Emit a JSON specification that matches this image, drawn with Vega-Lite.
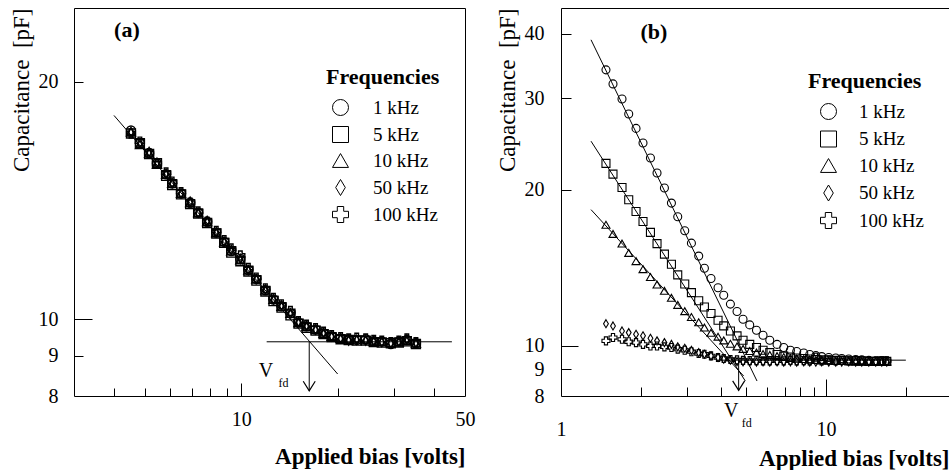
{
  "$schema": "https://vega.github.io/schema/vega-lite/v6.json",
  "background": "white",
  "padding": {"left": 9, "top": 7, "right": 0, "bottom": 0},
  "bounds": "flush",
  "spacing": 96,
  "config": {
    "view": {"stroke": null},
    "axis": {"grid": false, "domain": false, "domainColor": "black", "domainWidth": 1, "tickColor": "black", "tickWidth": 1, "labelColor": "black", "titleColor": "black", "labelFont": "Liberation Serif", "titleFont": "Liberation Serif", "labelFontSize": 20, "labelOverlap": false, "labelFlush": false, "titleFontWeight": "normal", "titleFontSize": 23},
    "legend": {"titleFont": "Liberation Serif", "titleFontSize": 22, "titleFontWeight": "bold", "titleColor": "black", "titlePadding": 9, "labelFont": "Liberation Serif", "labelFontSize": 19, "labelColor": "black", "symbolSize": 256, "symbolStrokeColor": "black", "symbolFillColor": "white", "symbolStrokeWidth": 1, "rowPadding": 6}
  },
  "resolve": {"scale": {"shape": "independent"}, "legend": {"shape": "independent"}},
  "hconcat": [
    {
      "width": 391,
      "height": 388,
      "resolve": {"axis": {"x": "independent", "y": "independent"}},
      "layer": [
        {
          "data": {"values": [
            {"V": 4.52, "1 kHz": 17.35, "5 kHz": 17.2, "10 kHz": 17.27, "50 kHz": 17.27, "100 kHz": 17.2},
            {"V": 4.82, "1 kHz": 16.72, "5 kHz": 16.72, "10 kHz": 16.65, "50 kHz": 16.72, "100 kHz": 16.8},
            {"V": 5.15, "1 kHz": 16.24, "5 kHz": 16.2, "10 kHz": 16.24, "50 kHz": 16.3, "100 kHz": 16.24},
            {"V": 5.45, "1 kHz": 15.77, "5 kHz": 15.77, "10 kHz": 15.72, "50 kHz": 15.8, "100 kHz": 15.77},
            {"V": 5.82, "1 kHz": 15.27, "5 kHz": 15.2, "10 kHz": 15.27, "50 kHz": 15.3, "100 kHz": 15.35},
            {"V": 6.08, "1 kHz": 14.87, "5 kHz": 14.8, "10 kHz": 14.87, "50 kHz": 14.87, "100 kHz": 14.95},
            {"V": 6.48, "1 kHz": 14.44, "5 kHz": 14.4, "10 kHz": 14.44, "50 kHz": 14.44, "100 kHz": 14.5},
            {"V": 6.92, "1 kHz": 14.06, "5 kHz": 14.0, "10 kHz": 14.06, "50 kHz": 14.1, "100 kHz": 14.06},
            {"V": 7.33, "1 kHz": 13.65, "5 kHz": 13.62, "10 kHz": 13.65, "50 kHz": 13.65, "100 kHz": 13.7},
            {"V": 7.82, "1 kHz": 13.3, "5 kHz": 13.25, "10 kHz": 13.3, "50 kHz": 13.33, "100 kHz": 13.3},
            {"V": 8.35, "1 kHz": 12.88, "5 kHz": 12.85, "10 kHz": 12.88, "50 kHz": 12.9, "100 kHz": 12.95},
            {"V": 8.84, "1 kHz": 12.54, "5 kHz": 12.5, "10 kHz": 12.54, "50 kHz": 12.54, "100 kHz": 12.6},
            {"V": 9.3, "1 kHz": 12.21, "5 kHz": 12.15, "10 kHz": 12.21, "50 kHz": 12.25, "100 kHz": 12.3},
            {"V": 9.93, "1 kHz": 11.93, "5 kHz": 11.85, "10 kHz": 11.9, "50 kHz": 11.93, "100 kHz": 12.05},
            {"V": 10.52, "1 kHz": 11.55, "5 kHz": 11.5, "10 kHz": 11.55, "50 kHz": 11.55, "100 kHz": 11.62},
            {"V": 11.14, "1 kHz": 11.25, "5 kHz": 11.2, "10 kHz": 11.25, "50 kHz": 11.25, "100 kHz": 11.3},
            {"V": 11.89, "1 kHz": 10.89, "5 kHz": 10.85, "10 kHz": 10.89, "50 kHz": 10.92, "100 kHz": 10.95},
            {"V": 12.6, "1 kHz": 10.6, "5 kHz": 10.55, "10 kHz": 10.6, "50 kHz": 10.6, "100 kHz": 10.65},
            {"V": 13.35, "1 kHz": 10.39, "5 kHz": 10.35, "10 kHz": 10.39, "50 kHz": 10.42, "100 kHz": 10.45},
            {"V": 14.24, "1 kHz": 10.18, "5 kHz": 10.12, "10 kHz": 10.18, "50 kHz": 10.18, "100 kHz": 10.25},
            {"V": 15.09, "1 kHz": 9.91, "5 kHz": 9.88, "10 kHz": 9.91, "50 kHz": 9.93, "100 kHz": 9.95},
            {"V": 15.99, "1 kHz": 9.8, "5 kHz": 9.76, "10 kHz": 9.8, "50 kHz": 9.82, "100 kHz": 9.85},
            {"V": 17.06, "1 kHz": 9.71, "5 kHz": 9.68, "10 kHz": 9.71, "50 kHz": 9.71, "100 kHz": 9.75},
            {"V": 18.07, "1 kHz": 9.6, "5 kHz": 9.58, "10 kHz": 9.6, "50 kHz": 9.62, "100 kHz": 9.65},
            {"V": 19.15, "1 kHz": 9.52, "5 kHz": 9.5, "10 kHz": 9.52, "50 kHz": 9.52, "100 kHz": 9.55},
            {"V": 20.43, "1 kHz": 9.46, "5 kHz": 9.44, "10 kHz": 9.46, "50 kHz": 9.46, "100 kHz": 9.5},
            {"V": 21.65, "1 kHz": 9.44, "5 kHz": 9.42, "10 kHz": 9.44, "50 kHz": 9.4, "100 kHz": 9.46},
            {"V": 22.94, "1 kHz": 9.42, "5 kHz": 9.4, "10 kHz": 9.44, "50 kHz": 9.42, "100 kHz": 9.48},
            {"V": 24.47, "1 kHz": 9.44, "5 kHz": 9.4, "10 kHz": 9.42, "50 kHz": 9.4, "100 kHz": 9.46},
            {"V": 25.93, "1 kHz": 9.38, "5 kHz": 9.36, "10 kHz": 9.38, "50 kHz": 9.4, "100 kHz": 9.42},
            {"V": 27.47, "1 kHz": 9.38, "5 kHz": 9.35, "10 kHz": 9.38, "50 kHz": 9.36, "100 kHz": 9.4},
            {"V": 29.32, "1 kHz": 9.31, "5 kHz": 9.33, "10 kHz": 9.35, "50 kHz": 9.33, "100 kHz": 9.36},
            {"V": 31.06, "1 kHz": 9.38, "5 kHz": 9.35, "10 kHz": 9.36, "50 kHz": 9.38, "100 kHz": 9.4},
            {"V": 32.9, "1 kHz": 9.42, "5 kHz": 9.38, "10 kHz": 9.4, "50 kHz": 9.44, "100 kHz": 9.46},
            {"V": 35.12, "1 kHz": 9.33, "5 kHz": 9.31, "10 kHz": 9.33, "50 kHz": 9.35, "100 kHz": 9.36}
          ]},
          "transform": [{"fold": ["1 kHz", "5 kHz", "10 kHz", "50 kHz", "100 kHz"], "as": ["Frequency", "C"]}],
          "mark": {"type": "point", "filled": false, "color": "black", "strokeWidth": 1.4, "opacity": 1, "size": 80},
          "encoding": {
            "x": {"field": "V", "type": "quantitative", "scale": {"type": "log", "domain": [3, 50], "nice": false},
                  "axis": {"orient": "bottom", "values": [4, 5, 6, 7, 8, 9, 20, 30, 40], "tickSize": -8, "labels": false, "domain": true, "title": null}},
            "y": {"field": "C", "type": "quantitative", "scale": {"type": "log", "domain": [8, 24.8], "nice": false},
                  "axis": {"orient": "left", "values": [9, 20], "tickSize": -9, "labels": false, "domain": true, "title": null}},
            "shape": {"field": "Frequency", "type": "nominal",
                      "scale": {"domain": ["1 kHz", "5 kHz", "10 kHz", "50 kHz", "100 kHz"], "range": ["circle", "square", "triangle-up", "M0,-1L0.6,0L0,1L-0.6,0Z", "cross"]},
                      "legend": {"orient": "none", "legendX": 252, "legendY": 59, "title": "Frequencies", "symbolOffset": 5, "labelOffset": 23}}
          }
        },
        {
          "data": {"values": [
            {"seg": "fit", "V": 4.0, "C": 18.13},
            {"seg": "fit", "V": 20.0, "C": 8.53},
            {"seg": "sat", "V": 12.0, "C": 9.37},
            {"seg": "sat", "V": 45.5, "C": 9.37}
          ]},
          "mark": {"type": "line", "color": "black", "strokeWidth": 1},
          "encoding": {
            "x": {"field": "V", "type": "quantitative", "scale": {"type": "log", "domain": [3, 50], "nice": false},
                  "axis": {"orient": "bottom", "values": [10], "tickSize": -13, "labels": false, "domain": false, "title": null}},
            "y": {"field": "C", "type": "quantitative", "scale": {"type": "log", "domain": [8, 24.8], "nice": false},
                  "axis": {"orient": "left", "values": [10], "tickSize": -18, "labels": false, "domain": false, "title": null}},
            "detail": {"field": "seg"}
          }
        },
        {
          "data": {"values": [{"V": 16.3, "C": 9.37, "C2": 8.12}]},
          "mark": {"type": "rule", "color": "black", "strokeWidth": 1},
          "encoding": {
            "x": {"field": "V", "type": "quantitative", "scale": {"type": "log", "domain": [3, 50], "nice": false},
                  "axis": {"orient": "bottom", "values": [10, 50], "ticks": false, "labelPadding": 13, "domain": false, "title": "Applied bias [volts]", "titleAnchor": "end", "titleFontWeight": "bold", "titlePadding": 16}},
            "y": {"field": "C", "type": "quantitative", "scale": {"type": "log", "domain": [8, 24.8], "nice": false},
                  "axis": {"orient": "left", "values": [8, 9, 10, 20], "ticks": false, "labelPadding": 16, "labelAlign": "right", "domain": false, "title": "Capacitance\u00a0\u00a0[pF]", "titleAnchor": "end", "titlePadding": 5}},
            "y2": {"field": "C2"}
          }
        },
        {
          "data": {"values": [{"V": 16.3, "C": 8.12}]},
          "mark": {"type": "point", "shape": "M-1,-1.6L0,0L1,-1.6", "size": 144, "filled": false, "color": "black", "strokeWidth": 1.2, "opacity": 1},
          "encoding": {
            "x": {"field": "V", "type": "quantitative", "scale": {"type": "log", "domain": [3, 50], "nice": false},
                  "axis": {"orient": "top", "ticks": false, "labels": false, "domain": true, "title": null}},
            "y": {"field": "C", "type": "quantitative", "scale": {"type": "log", "domain": [8, 24.8], "nice": false},
                  "axis": {"orient": "right", "ticks": false, "labels": false, "domain": true, "title": null}}
          }
        },
        {
          "data": {"values": [{"V": 4.39, "C": 23.24, "t": "(a)"}]},
          "mark": {"type": "text", "font": "Liberation Serif", "fontSize": 22, "fontWeight": "bold", "align": "center", "baseline": "middle", "color": "black"},
          "encoding": {
            "x": {"field": "V", "type": "quantitative", "scale": {"type": "log", "domain": [3, 50], "nice": false}, "axis": null},
            "y": {"field": "C", "type": "quantitative", "scale": {"type": "log", "domain": [8, 24.8], "nice": false}, "axis": null},
            "text": {"field": "t"}
          }
        },
        {
          "data": {"values": [{"V": 11.94, "C": 8.61, "t": "V"}]},
          "mark": {"type": "text", "font": "Liberation Serif", "fontSize": 20, "align": "center", "baseline": "middle", "color": "black"},
          "encoding": {
            "x": {"field": "V", "type": "quantitative", "scale": {"type": "log", "domain": [3, 50], "nice": false}, "axis": null},
            "y": {"field": "C", "type": "quantitative", "scale": {"type": "log", "domain": [8, 24.8], "nice": false}, "axis": null},
            "text": {"field": "t"}
          }
        },
        {
          "data": {"values": [{"V": 13.55, "C": 8.32, "t": "fd"}]},
          "mark": {"type": "text", "font": "Liberation Serif", "fontSize": 12, "align": "center", "baseline": "middle", "color": "black"},
          "encoding": {
            "x": {"field": "V", "type": "quantitative", "scale": {"type": "log", "domain": [3, 50], "nice": false}, "axis": null},
            "y": {"field": "C", "type": "quantitative", "scale": {"type": "log", "domain": [8, 24.8], "nice": false}, "axis": null},
            "text": {"field": "t"}
          }
        }
      ]
    },
    {
      "width": 388,
      "height": 388,
      "resolve": {"axis": {"x": "independent", "y": "independent"}},
      "layer": [
        {
          "data": {"values": [
            {"V": 1.478, "1 kHz": 34.04, "5 kHz": 22.47, "10 kHz": 17.11, "50 kHz": 11.03, "100 kHz": 10.22},
            {"V": 1.571, "1 kHz": 31.98, "5 kHz": 21.43, "10 kHz": 16.43, "50 kHz": 10.92, "100 kHz": 10.37},
            {"V": 1.699, "1 kHz": 29.91, "5 kHz": 20.19, "10 kHz": 15.74, "50 kHz": 10.68, "100 kHz": 10.29},
            {"V": 1.801, "1 kHz": 27.99, "5 kHz": 19.12, "10 kHz": 15.1, "50 kHz": 10.6, "100 kHz": 10.18},
            {"V": 1.919, "1 kHz": 26.25, "5 kHz": 18.15, "10 kHz": 14.56, "50 kHz": 10.52, "100 kHz": 10.14},
            {"V": 2.039, "1 kHz": 24.6, "5 kHz": 17.36, "10 kHz": 14.05, "50 kHz": 10.45, "100 kHz": 10.06},
            {"V": 2.175, "1 kHz": 23.01, "5 kHz": 16.54, "10 kHz": 13.57, "50 kHz": 10.34, "100 kHz": 9.99},
            {"V": 2.303, "1 kHz": 21.53, "5 kHz": 15.74, "10 kHz": 13.12, "50 kHz": 10.22, "100 kHz": 9.99},
            {"V": 2.456, "1 kHz": 20.14, "5 kHz": 15.02, "10 kHz": 12.76, "50 kHz": 10.14, "100 kHz": 9.95},
            {"V": 2.61, "1 kHz": 18.84, "5 kHz": 14.36, "10 kHz": 12.37, "50 kHz": 10.06, "100 kHz": 9.92},
            {"V": 2.757, "1 kHz": 17.73, "5 kHz": 13.7, "10 kHz": 11.99, "50 kHz": 9.95, "100 kHz": 9.85},
            {"V": 2.93, "1 kHz": 16.66, "5 kHz": 13.15, "10 kHz": 11.66, "50 kHz": 9.89, "100 kHz": 9.8},
            {"V": 3.105, "1 kHz": 15.77, "5 kHz": 12.66, "10 kHz": 11.36, "50 kHz": 9.8, "100 kHz": 9.74},
            {"V": 3.308, "1 kHz": 14.89, "5 kHz": 12.21, "10 kHz": 11.1, "50 kHz": 9.7, "100 kHz": 9.66},
            {"V": 3.476, "1 kHz": 14.11, "5 kHz": 11.88, "10 kHz": 10.84, "50 kHz": 9.63, "100 kHz": 9.63},
            {"V": 3.681, "1 kHz": 13.48, "5 kHz": 11.54, "10 kHz": 10.59, "50 kHz": 9.56, "100 kHz": 9.56},
            {"V": 3.913, "1 kHz": 12.94, "5 kHz": 11.2, "10 kHz": 10.41, "50 kHz": 9.49, "100 kHz": 9.49},
            {"V": 4.111, "1 kHz": 12.51, "5 kHz": 10.92, "10 kHz": 10.24, "50 kHz": 9.42, "100 kHz": 9.45},
            {"V": 4.357, "1 kHz": 12.03, "5 kHz": 10.68, "10 kHz": 10.09, "50 kHz": 9.38, "100 kHz": 9.41},
            {"V": 4.615, "1 kHz": 11.64, "5 kHz": 10.45, "10 kHz": 9.97, "50 kHz": 9.32, "100 kHz": 9.39},
            {"V": 4.862, "1 kHz": 11.25, "5 kHz": 10.25, "10 kHz": 9.86, "50 kHz": 9.31, "100 kHz": 9.37},
            {"V": 5.153, "1 kHz": 10.97, "5 kHz": 10.06, "10 kHz": 9.77, "50 kHz": 9.31, "100 kHz": 9.36},
            {"V": 5.464, "1 kHz": 10.71, "5 kHz": 9.92, "10 kHz": 9.7, "50 kHz": 9.3, "100 kHz": 9.36},
            {"V": 5.785, "1 kHz": 10.48, "5 kHz": 9.8, "10 kHz": 9.64, "50 kHz": 9.31, "100 kHz": 9.35},
            {"V": 6.133, "1 kHz": 10.25, "5 kHz": 9.7, "10 kHz": 9.6, "50 kHz": 9.3, "100 kHz": 9.35},
            {"V": 6.534, "1 kHz": 10.06, "5 kHz": 9.62, "10 kHz": 9.55, "50 kHz": 9.31, "100 kHz": 9.36},
            {"V": 6.925, "1 kHz": 9.92, "5 kHz": 9.55, "10 kHz": 9.51, "50 kHz": 9.3, "100 kHz": 9.35},
            {"V": 7.338, "1 kHz": 9.8, "5 kHz": 9.51, "10 kHz": 9.47, "50 kHz": 9.31, "100 kHz": 9.37},
            {"V": 7.75, "1 kHz": 9.75, "5 kHz": 9.47, "10 kHz": 9.45, "50 kHz": 9.3, "100 kHz": 9.35},
            {"V": 8.24, "1 kHz": 9.68, "5 kHz": 9.45, "10 kHz": 9.43, "50 kHz": 9.31, "100 kHz": 9.36},
            {"V": 8.68, "1 kHz": 9.62, "5 kHz": 9.43, "10 kHz": 9.41, "50 kHz": 9.3, "100 kHz": 9.35},
            {"V": 9.15, "1 kHz": 9.57, "5 kHz": 9.41, "10 kHz": 9.39, "50 kHz": 9.3, "100 kHz": 9.5},
            {"V": 9.63, "1 kHz": 9.53, "5 kHz": 9.39, "10 kHz": 9.39, "50 kHz": 9.31, "100 kHz": 9.35},
            {"V": 10.24, "1 kHz": 9.49, "5 kHz": 9.39, "10 kHz": 9.37, "50 kHz": 9.3, "100 kHz": 9.38},
            {"V": 10.88, "1 kHz": 9.47, "5 kHz": 9.37, "10 kHz": 9.35, "50 kHz": 9.3, "100 kHz": 9.35},
            {"V": 11.46, "1 kHz": 9.45, "5 kHz": 9.37, "10 kHz": 9.35, "50 kHz": 9.3, "100 kHz": 9.37},
            {"V": 12.18, "1 kHz": 9.43, "5 kHz": 9.35, "10 kHz": 9.35, "50 kHz": 9.31, "100 kHz": 9.35},
            {"V": 12.94, "1 kHz": 9.41, "5 kHz": 9.35, "10 kHz": 9.33, "50 kHz": 9.3, "100 kHz": 9.36},
            {"V": 13.64, "1 kHz": 9.39, "5 kHz": 9.35, "10 kHz": 9.33, "50 kHz": 9.3, "100 kHz": 9.35},
            {"V": 14.5, "1 kHz": 9.37, "5 kHz": 9.33, "10 kHz": 9.33, "50 kHz": 9.3, "100 kHz": 9.35},
            {"V": 15.4, "1 kHz": 9.35, "5 kHz": 9.33, "10 kHz": 9.33, "50 kHz": 9.3, "100 kHz": 9.34},
            {"V": 16.23, "1 kHz": 9.35, "5 kHz": 9.35, "10 kHz": 9.33, "50 kHz": 9.3, "100 kHz": 9.35},
            {"V": 16.95, "1 kHz": 9.35, "5 kHz": 9.33, "10 kHz": 9.33, "50 kHz": 9.3, "100 kHz": 9.35}
          ]},
          "transform": [{"fold": ["1 kHz", "5 kHz", "10 kHz", "50 kHz", "100 kHz"], "as": ["Frequency", "C"]}],
          "mark": {"type": "point", "filled": false, "color": "black", "strokeWidth": 1.1, "opacity": 1, "size": 64},
          "encoding": {
            "x": {"field": "V", "type": "quantitative", "scale": {"type": "log", "domain": [1, 29.1], "nice": false},
                  "axis": {"orient": "bottom", "values": [2, 3, 4, 5, 6, 7, 8, 9, 20], "tickSize": -9, "labels": false, "domain": true, "title": null}},
            "y": {"field": "C", "type": "quantitative", "scale": {"type": "log", "domain": [8, 44.8], "nice": false},
                  "axis": {"orient": "left", "values": [9, 20, 30, 40], "tickSize": -10, "labels": false, "domain": true, "title": null}},
            "shape": {"field": "Frequency", "type": "nominal",
                      "scale": {"domain": ["1 kHz", "5 kHz", "10 kHz", "50 kHz", "100 kHz"], "range": ["circle", "square", "triangle-up", "M0,-1L0.6,0L0,1L-0.6,0Z", "cross"]},
                      "legend": {"orient": "none", "legendX": 247, "legendY": 63, "title": "Frequencies", "symbolOffset": 11, "labelOffset": 21, "rowPadding": 6.5}}
          }
        },
        {
          "data": {"values": [
            {"seg": "1 kHz", "V": 1.298, "C": 38.9},
            {"seg": "1 kHz", "V": 5.49, "C": 8.55},
            {"seg": "5 kHz", "V": 1.298, "C": 24.8},
            {"seg": "5 kHz", "V": 4.96, "C": 8.55},
            {"seg": "10 kHz", "V": 1.298, "C": 18.3},
            {"seg": "10 kHz", "V": 4.89, "C": 8.74},
            {"seg": "sat", "V": 4.04, "C": 9.38},
            {"seg": "sat", "V": 20.0, "C": 9.38}
          ]},
          "mark": {"type": "line", "color": "black", "strokeWidth": 1},
          "encoding": {
            "x": {"field": "V", "type": "quantitative", "scale": {"type": "log", "domain": [1, 29.1], "nice": false},
                  "axis": {"orient": "bottom", "values": [10], "tickSize": -17, "labels": false, "domain": false, "title": null}},
            "y": {"field": "C", "type": "quantitative", "scale": {"type": "log", "domain": [8, 44.8], "nice": false},
                  "axis": {"orient": "left", "values": [10], "tickSize": -17, "labels": false, "domain": false, "title": null}},
            "detail": {"field": "seg"}
          }
        },
        {
          "data": {"values": [{"V": 4.68, "C": 9.38, "C2": 8.2}]},
          "mark": {"type": "rule", "color": "black", "strokeWidth": 1},
          "encoding": {
            "x": {"field": "V", "type": "quantitative", "scale": {"type": "log", "domain": [1, 29.1], "nice": false},
                  "axis": {"orient": "bottom", "values": [1, 10], "ticks": false, "labelPadding": 23, "domain": false, "title": "Applied bias [volts]", "titleAnchor": "end", "titleFontWeight": "bold", "titlePadding": 8}},
            "y": {"field": "C", "type": "quantitative", "scale": {"type": "log", "domain": [8, 44.8], "nice": false},
                  "axis": {"orient": "left", "values": [8, 9, 10, 20, 30, 40], "ticks": false, "labelPadding": 17, "labelAlign": "right", "domain": false, "title": "Capacitance\u00a0\u00a0[pF]", "titleAnchor": "end", "titlePadding": 5}},
            "y2": {"field": "C2"}
          }
        },
        {
          "data": {"values": [{"V": 4.68, "C": 8.2}]},
          "mark": {"type": "point", "shape": "M-1,-1.6L0,0L1,-1.6", "size": 144, "filled": false, "color": "black", "strokeWidth": 1.2, "opacity": 1},
          "encoding": {
            "x": {"field": "V", "type": "quantitative", "scale": {"type": "log", "domain": [1, 29.1], "nice": false},
                  "axis": {"orient": "top", "ticks": false, "labels": false, "domain": true, "title": null}},
            "y": {"field": "C", "type": "quantitative", "scale": {"type": "log", "domain": [8, 44.8], "nice": false}, "axis": null}
          }
        },
        {
          "data": {"values": [{"V": 2.24, "C": 40.2, "t": "(b)"}]},
          "mark": {"type": "text", "font": "Liberation Serif", "fontSize": 22, "fontWeight": "bold", "align": "center", "baseline": "middle", "color": "black"},
          "encoding": {
            "x": {"field": "V", "type": "quantitative", "scale": {"type": "log", "domain": [1, 29.1], "nice": false}, "axis": null},
            "y": {"field": "C", "type": "quantitative", "scale": {"type": "log", "domain": [8, 44.8], "nice": false}, "axis": null},
            "text": {"field": "t"}
          }
        },
        {
          "data": {"values": [{"V": 4.388, "C": 7.484, "t": "V"}]},
          "mark": {"type": "text", "font": "Liberation Serif", "fontSize": 20, "align": "center", "baseline": "middle", "color": "black"},
          "encoding": {
            "x": {"field": "V", "type": "quantitative", "scale": {"type": "log", "domain": [1, 29.1], "nice": false}, "axis": null},
            "y": {"field": "C", "type": "quantitative", "scale": {"type": "log", "domain": [8, 44.8], "nice": false}, "axis": null},
            "text": {"field": "t"}
          }
        },
        {
          "data": {"values": [{"V": 5.02, "C": 7.11, "t": "fd"}]},
          "mark": {"type": "text", "font": "Liberation Serif", "fontSize": 12, "align": "center", "baseline": "middle", "color": "black"},
          "encoding": {
            "x": {"field": "V", "type": "quantitative", "scale": {"type": "log", "domain": [1, 29.1], "nice": false}, "axis": null},
            "y": {"field": "C", "type": "quantitative", "scale": {"type": "log", "domain": [8, 44.8], "nice": false}, "axis": null},
            "text": {"field": "t"}
          }
        }
      ]
    }
  ]
}
